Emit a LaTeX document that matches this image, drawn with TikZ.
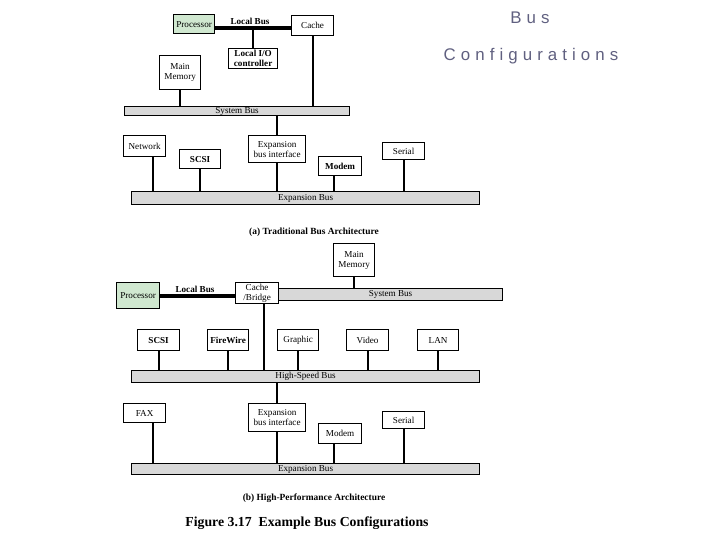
\documentclass[tikz,border=0pt]{standalone}
\usepackage{fontspec}
\setmainfont{Liberation Serif}
\newfontfamily\titlefont[LetterSpace=30]{Liberation Sans}
\usetikzlibrary{positioning}

\definecolor{procgreen}{RGB}{208,232,208}
\definecolor{busgray}{RGB}{216,216,216}
\definecolor{titlegray}{RGB}{96,96,128}
\newcommand{\boxfont}{\fontsize{6.5}{7.2}\selectfont}
\newcommand{\capfont}{\fontsize{6.7}{8}\selectfont\bfseries}

\tikzset{
  unit/.style={draw, line width=0.9pt, fill=white, inner sep=0pt, anchor=north west, align=center, font=\boxfont},
  cpu/.style={unit, fill=procgreen},
  bus/.style={draw, line width=0.8pt, fill=busgray, inner sep=0pt, anchor=north west, font=\boxfont},
  tap/.style={line width=1.4pt},
  localbus/.style={line width=3.5pt},
}

\begin{document}
\begin{tikzpicture}[x=0.25mm, y=-0.25mm]
\useasboundingbox (0,0) rectangle (720,540);

% title
\node[font=\titlefont\fontsize{12}{14}\selectfont, text=titlegray, anchor=base] (ttl1) at (530,23) {Bus};
\node[font=\titlefont\fontsize{12}{14}\selectfont, text=titlegray, anchor=base] (ttl2) at (531,60) {Configurations};

% (a) traditional
\node[cpu, minimum width=10.25mm, minimum height=4.75mm] (procA) at (173,14) {Processor};
\node[unit, minimum width=10.5mm, minimum height=5mm] (cacheA) at (291,15) {Cache};
\node[unit, minimum width=12.25mm, minimum height=5mm] (lioA) at (228,48) {\bfseries Local I/O\\\bfseries controller};
\node[unit, minimum width=10.25mm, minimum height=8.5mm] (memA) at (159,55) {Main\\Memory};
\node[bus, minimum width=56.25mm, minimum height=2.25mm] (sysA) at (124,106) {System Bus};
\node[unit, minimum width=10.5mm, minimum height=5.25mm] (netA) at (123,135) {Network};
\node[unit, minimum width=10.25mm, minimum height=4.75mm] (scsiA) at (179,149) {\bfseries SCSI};
\node[unit, minimum width=14.25mm, minimum height=6.75mm] (ebiA) at (248,135) {Expansion\\bus interface};
\node[unit, minimum width=10.75mm, minimum height=4.75mm] (modemA) at (318,156) {\bfseries Modem};
\node[unit, minimum width=10.5mm, minimum height=4.25mm] (serialA) at (382,142) {Serial};
\node[bus, minimum width=87mm, minimum height=3.25mm] (expA) at (131,191) {Expansion Bus};
\node[font=\capfont] (capA) at (314,232) {(a) Traditional Bus Architecture};

\coordinate (lbA) at (250,28);
\draw[localbus] (procA.east |- lbA) -- (cacheA.west |- lbA);
\node[font=\boxfont\bfseries, inner sep=0pt, above=2pt of lbA] (lbAtxt) {Local Bus};
\draw[tap] (lioA.north) -- (lioA.north |- lbA);
\draw[tap] (memA.south) -- (memA.south |- sysA.north);
\draw[tap] (cacheA.south) -- (cacheA.south |- sysA.north);
\draw[tap] (ebiA.north) -- (ebiA.north |- sysA.south);
\draw[tap] ([xshift=2mm]netA.south) -- ([xshift=2mm]netA.south |- expA.north);
\draw[tap] ([xshift=-1.6mm]modemA.south) -- ([xshift=-1.6mm]modemA.south |- expA.north);
\foreach \dev in {scsiA,ebiA,serialA}
  \draw[tap] (\dev.south) -- (\dev.south |- expA.north);

% (b) high-performance
\node[unit, minimum width=10.25mm, minimum height=8.25mm] (memB) at (333,243) {Main\\Memory};
\node[cpu, minimum width=10.75mm, minimum height=6.5mm] (procB) at (116,282) {Processor};
\node[unit, minimum width=10.75mm, minimum height=5.25mm] (cbB) at (235,282) {Cache\\/Bridge};
\node[bus, minimum width=56mm, minimum height=3mm] (sysB) at (278,288) {System Bus};
\node[unit, minimum width=10.5mm, minimum height=5.25mm] (scsiB) at (137,329) {\bfseries SCSI};
\node[unit, minimum width=10.25mm, minimum height=5.25mm] (fwB) at (207,329) {\bfseries FireWire};
\node[unit, minimum width=10.25mm, minimum height=5.25mm] (gfxB) at (277,329) {Graphic};
\node[unit, minimum width=10.5mm, minimum height=5.25mm] (vidB) at (346,329) {Video};
\node[unit, minimum width=10.25mm, minimum height=5.25mm] (lanB) at (417,329) {LAN};
\node[bus, minimum width=87mm, minimum height=3mm] (hsB) at (131,370) {High-Speed Bus};
\node[unit, minimum width=10.5mm, minimum height=4.75mm] (faxB) at (123,403) {FAX};
\node[unit, minimum width=14.25mm, minimum height=7mm] (ebiB) at (248,403) {Expansion\\bus interface};
\node[unit, minimum width=10.75mm, minimum height=5mm] (modemB) at (318,423) {Modem};
\node[unit, minimum width=10.5mm, minimum height=4.25mm] (serialB) at (382,411) {Serial};
\node[bus, minimum width=87mm, minimum height=2.75mm] (expB) at (131,463) {Expansion Bus};
\node[font=\capfont] (capB) at (314,498) {(b) High-Performance Architecture};
\node[font=\fontsize{9.8}{12}\selectfont\bfseries] (figcap) at (307,523) {Figure 3.17\ \ Example Bus Configurations};

\coordinate (lbB) at (195,296);
\draw[localbus] (procB.east |- lbB) -- (cbB.west |- lbB);
\node[font=\boxfont\bfseries, inner sep=0pt, above=2pt of lbB] (lbBtxt) {Local Bus};
\draw[tap] (memB.south) -- (memB.south |- sysB.north);
\draw[tap] ([xshift=1.75mm]cbB.south) -- ([xshift=1.75mm]cbB.south |- hsB.north);
\foreach \dev in {scsiB,fwB,gfxB,vidB,lanB}
  \draw[tap] (\dev.south) -- (\dev.south |- hsB.north);
\draw[tap] (ebiB.north) -- (ebiB.north |- hsB.south);
\draw[tap] ([xshift=2mm]faxB.south) -- ([xshift=2mm]faxB.south |- expB.north);
\draw[tap] ([xshift=-1.6mm]modemB.south) -- ([xshift=-1.6mm]modemB.south |- expB.north);
\foreach \dev in {ebiB,serialB}
  \draw[tap] (\dev.south) -- (\dev.south |- expB.north);
\end{tikzpicture}
\end{document}
